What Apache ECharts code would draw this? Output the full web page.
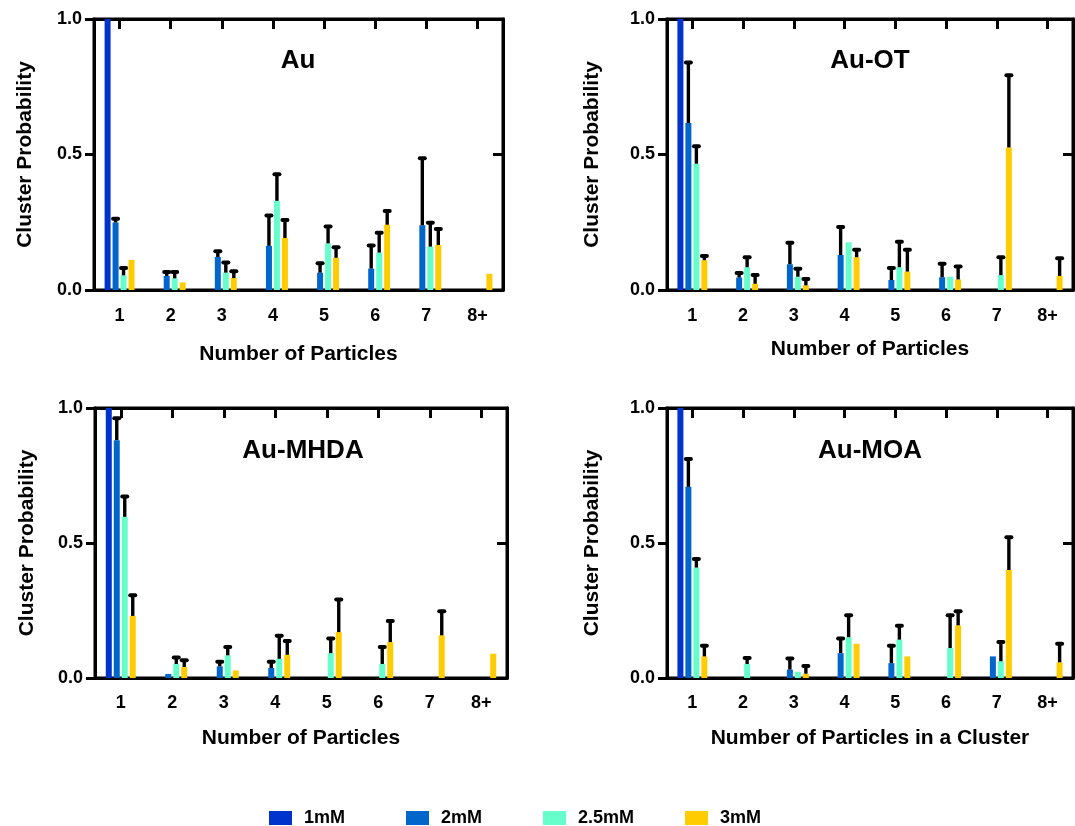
<!DOCTYPE html>
<html>
<head>
<meta charset="utf-8">
<script src="https://cdn.jsdelivr.net/npm/echarts@6/dist/echarts.min.js"></script>
<style>
html,body{margin:0;padding:0;background:#fff;}
#chart{width:1075px;height:826px;}
</style>
</head>
<body>
<div id="chart"></div>
<script>
// ---------------- DATA ----------------
const categories = ['1', '2', '3', '4', '5', '6', '7', '8+'];
const seriesNames = ['1mM', '2mM', '2.5mM', '3mM'];
const panelTitles = ['Au', 'Au-OT', 'Au-MHDA', 'Au-MOA'];
const xAxisNames = ['Number of Particles', 'Number of Particles', 'Number of Particles', 'Number of Particles in a Cluster'];
const yAxisName = 'Cluster Probability';

// Au
const au_1mM  = [1.0, null, null, null, null, null, null, null];
const au_2mM  = [0.249, 0.052, 0.122, 0.163, 0.064, 0.079, 0.239, null];
const au_25mM = [0.054, 0.043, 0.064, 0.329, 0.172, 0.138, 0.160, null];
const au_3mM  = [0.111, 0.028, 0.044, 0.192, 0.119, 0.241, 0.166, 0.060];
const au_err_2mM  = [0.265, 0.068, 0.145, 0.277, 0.101, 0.166, 0.488, null];
const au_err_25mM = [0.083, 0.068, 0.103, 0.429, 0.236, 0.213, 0.250, null];
const au_err_3mM  = [null, null, 0.071, 0.260, 0.160, 0.293, 0.227, null];

// Au-OT
const ot_1mM  = [1.0, null, null, null, null, null, null, null];
const ot_2mM  = [0.616, 0.046, 0.095, 0.129, 0.037, 0.047, null, null];
const ot_25mM = [0.466, 0.084, 0.049, 0.176, 0.084, 0.049, 0.055, null];
const ot_3mM  = [0.110, 0.023, 0.017, 0.121, 0.068, 0.039, 0.526, 0.052];
const ot_err_2mM  = [0.841, 0.065, 0.176, 0.234, 0.083, 0.099, null, null];
const ot_err_25mM = [0.532, 0.123, 0.080, null, 0.180, null, 0.123, null];
const ot_err_3mM  = [0.127, 0.057, 0.042, 0.150, 0.150, 0.089, 0.794, 0.119];

// Au-MHDA
const mhda_1mM  = [1.0, null, null, null, null, null, null, null];
const mhda_2mM  = [0.881, 0.015, 0.043, 0.037, null, null, null, null];
const mhda_25mM = [0.597, 0.052, 0.084, 0.071, 0.092, 0.052, null, null];
const mhda_3mM  = [0.230, 0.041, 0.028, 0.086, 0.170, 0.133, 0.158, 0.090];
const mhda_err_2mM  = [0.964, null, 0.062, 0.062, null, null, null, null];
const mhda_err_25mM = [0.674, 0.078, 0.117, 0.158, 0.148, 0.117, null, null];
const mhda_err_3mM  = [0.308, 0.068, null, 0.139, 0.293, 0.213, 0.249, null];

// Au-MOA
const moa_1mM  = [1.0, null, null, null, null, null, null, null];
const moa_2mM  = [0.708, null, 0.031, 0.092, 0.055, null, 0.080, null];
const moa_25mM = [0.409, 0.052, 0.023, 0.151, 0.142, 0.111, 0.062, null];
const moa_3mM  = [0.080, null, 0.016, 0.127, 0.080, 0.195, 0.400, 0.058];
const moa_err_2mM  = [0.813, null, 0.074, 0.148, 0.121, null, null, null];
const moa_err_25mM = [0.443, 0.076, null, 0.234, 0.195, 0.234, 0.135, null];
const moa_err_3mM  = [0.121, null, 0.046, null, null, 0.249, 0.523, 0.129];

const noErr = [null, null, null, null, null, null, null, null];

const panelValues = [
  [au_1mM, au_2mM, au_25mM, au_3mM],
  [ot_1mM, ot_2mM, ot_25mM, ot_3mM],
  [mhda_1mM, mhda_2mM, mhda_25mM, mhda_3mM],
  [moa_1mM, moa_2mM, moa_25mM, moa_3mM]
];
const panelErrors = [
  [noErr, au_err_2mM, au_err_25mM, au_err_3mM],
  [noErr, ot_err_2mM, ot_err_25mM, ot_err_3mM],
  [noErr, mhda_err_2mM, mhda_err_25mM, mhda_err_3mM],
  [noErr, moa_err_2mM, moa_err_25mM, moa_err_3mM]
];

// ---------------- LAYOUT / STYLE ----------------
const colors = ['#0033CC', '#0066CC', '#66FFCC', '#FFCC00'];
const FONT = '"Liberation Sans", Arial, Helvetica, sans-serif';
const layouts = [
  {left: 94,  top: 19,  width: 409, height: 271, xNameGap: 54, yNameGap: 58, labelMargin: 17, titleX: 298, titleY: 61},
  {left: 667, top: 19,  width: 406, height: 271, xNameGap: 49, yNameGap: 64, labelMargin: 17, titleX: 870, titleY: 61},
  {left: 95,  top: 408, width: 412, height: 270, xNameGap: 50, yNameGap: 57, labelMargin: 16, titleX: 303, titleY: 451},
  {left: 667, top: 408, width: 406, height: 270, xNameGap: 50, yNameGap: 64, labelMargin: 16, titleX: 870, titleY: 451}
];
const legendPos = [269, 406, 543, 685];
const BAR_W = 6, BAR_STEP = 8;

const axisLineStyle = {color: '#000', width: 3};
const labelStyle = {color: '#000', fontWeight: 'bold', fontSize: 18, fontFamily: FONT};
const nameStyle = {color: '#000', fontWeight: 'bold', fontSize: 21, fontFamily: FONT};

const grid = [], xAxis = [], yAxis = [], series = [], graphic = [];

layouts.forEach((l, i) => {
  grid.push({left: l.left, top: l.top, width: l.width, height: l.height,
    show: true, borderColor: '#000', borderWidth: 3, backgroundColor: 'transparent'});
  xAxis.push({
    gridIndex: i, type: 'category', data: categories, position: 'bottom', boundaryGap: true,
    axisLine: {onZero: false, lineStyle: axisLineStyle},
    axisTick: {alignWithLabel: true, interval: 0, length: 8, lineStyle: axisLineStyle},
    axisLabel: Object.assign({margin: l.labelMargin, interval: 0}, labelStyle),
    splitLine: {show: false},
    name: xAxisNames[i], nameLocation: 'middle', nameGap: l.xNameGap, nameTextStyle: nameStyle
  });
  xAxis.push({
    gridIndex: i, type: 'category', data: categories, position: 'top', boundaryGap: true,
    axisLine: {show: true, onZero: false, lineStyle: axisLineStyle},
    axisTick: {show: true, alignWithLabel: true, interval: 0, inside: true, length: 10, lineStyle: axisLineStyle},
    axisLabel: {show: false},
    splitLine: {show: false}
  });
  yAxis.push({
    gridIndex: i, type: 'value', min: 0, max: 1, interval: 0.5, position: 'left',
    axisLine: {show: true, onZero: false, lineStyle: axisLineStyle},
    axisTick: {show: true, length: 9, lineStyle: axisLineStyle},
    axisLabel: Object.assign({margin: 12, formatter: v => v.toFixed(1)}, labelStyle),
    splitLine: {show: false},
    name: yAxisName, nameLocation: 'middle', nameGap: l.yNameGap, nameTextStyle: nameStyle
  });
  yAxis.push({
    gridIndex: i, type: 'value', min: 0, max: 1, interval: 0.5, position: 'right',
    axisLine: {show: true, onZero: false, lineStyle: axisLineStyle},
    axisTick: {show: true, inside: true, length: 10, lineStyle: axisLineStyle},
    axisLabel: {show: false}, splitLine: {show: false}
  });

  panelValues[i].forEach((vals, k) => {
    series.push({
      type: 'bar', name: seriesNames[k], xAxisIndex: 2 * i, yAxisIndex: 2 * i,
      data: vals, barWidth: BAR_W, barGap: '33%', itemStyle: {color: colors[k]},
      z: 2, animation: false, emphasis: {disabled: true}
    });
  });

  panelValues[i].forEach((vals, k) => {
    const errs = panelErrors[i][k];
    const d = [];
    errs.forEach((e, c) => { if (e != null && vals[c] != null) d.push([c, vals[c], e]); });
    if (!d.length) return;
    const offset = (k - 1.5) * BAR_STEP;
    series.push({
      type: 'custom', name: 'err' + i + '_' + k, xAxisIndex: 2 * i, yAxisIndex: 2 * i,
      data: d, z: 5, animation: false, silent: true,
      renderItem: function (params, api) {
        const p0 = api.coord([api.value(0), api.value(1)]);
        const p1 = api.coord([api.value(0), api.value(2)]);
        const x = p0[0] + offset;
        return {
          type: 'group',
          children: [
            {type: 'line', shape: {x1: x, y1: p0[1], x2: x, y2: p1[1]},
             style: {stroke: '#000', lineWidth: 3.4}},
            {type: 'line', shape: {x1: x - 2.5, y1: p1[1] + 0.5, x2: x + 2.5, y2: p1[1] + 0.5},
             style: {stroke: '#000', lineWidth: 4, lineCap: 'round'}}
          ]
        };
      }
    });
  });

  graphic.push({
    type: 'text', x: l.titleX, y: l.titleY, z: 10,
    style: {text: panelTitles[i], textAlign: 'center', textVerticalAlign: 'middle',
      font: 'bold 26px ' + FONT, fill: '#000'}
  });
});

const legend = seriesNames.map((n, k) => ({
  data: [n], left: legendPos[k], top: 809, padding: 0,
  itemWidth: 23, itemHeight: 14, icon: 'rect', selectedMode: false,
  textStyle: {color: '#000', fontWeight: 'bold', fontSize: 18, fontFamily: FONT, padding: [0, 0, 0, 7]}
}));

const chart = echarts.init(document.getElementById('chart'), null, {renderer: 'canvas'});
chart.setOption({
  backgroundColor: '#fff',
  animation: false,
  grid, xAxis, yAxis, series, legend, graphic
});
</script>
</body>
</html>
